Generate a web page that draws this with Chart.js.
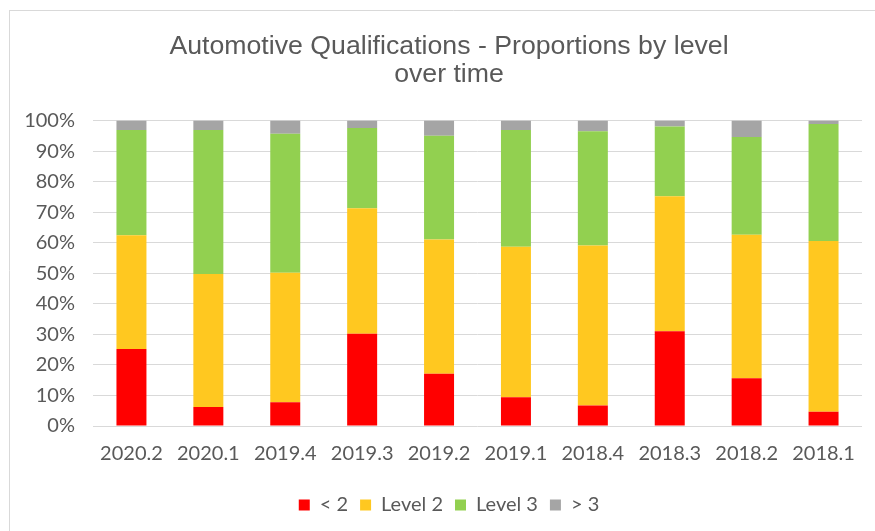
<!DOCTYPE html>
<html>
<head>
<meta charset="utf-8">
<script src="https://cdn.jsdelivr.net/npm/chart.js@4/dist/chart.umd.min.js"></script>
<style>
  html, body { margin: 0; padding: 0; background: #ffffff; overflow: hidden; }
  #wrap { position: absolute; left: 0; top: 0; width: 898px; height: 531px; }
</style>
</head>
<body>
<div id="wrap"><canvas id="c" width="898" height="531"></canvas></div>
<script>
const categories = ["2020.2", "2020.1", "2019.4", "2019.3", "2019.2", "2019.1", "2018.4", "2018.3", "2018.2", "2018.1"];
const seriesNames = ["< 2", "Level 2", "Level 3", "> 3"];
const below2 = [25.2, 6.2, 7.8, 30.2, 17.1, 9.4, 6.7, 31.0, 15.6, 4.7];
const level2 = [37.3, 43.6, 42.4, 41.1, 44.0, 49.3, 52.4, 44.2, 47.0, 55.9];
const level3 = [34.4, 47.1, 45.5, 26.3, 33.9, 38.2, 37.4, 22.9, 32.0, 38.3];
const above3 = [3.1, 3.1, 4.3, 2.4, 5.0, 3.1, 3.5, 1.9, 5.4, 1.1];
const yTickValues = [0, 10, 20, 30, 40, 50, 60, 70, 80, 90, 100];
const titleLines = ["Automotive Qualifications - Proportions by level", "over time"];

const colors = ["#FF0000", "#FFC820", "#92D050", "#A5A5A5"];
const textColor = "#595959";
const tickFont = { family: "Lato, 'Open Sans', sans-serif", size: 20 };

const borderPlugin = {
  id: 'chartBorder',
  beforeDraw(chart) {
    const ctx = chart.ctx;
    ctx.save();
    ctx.fillStyle = '#ffffff';
    ctx.fillRect(0, 0, chart.width, chart.height);
    ctx.strokeStyle = '#d9d9d9';
    ctx.lineWidth = 1;
    ctx.beginPath();
    ctx.moveTo(9.5, 10);
    ctx.lineTo(9.5, chart.height);
    ctx.moveTo(9, 10.5);
    ctx.lineTo(chart.width, 10.5);
    ctx.stroke();
    ctx.restore();
  }
};

const seriesData = [below2, level2, level3, above3];

new Chart(document.getElementById('c'), {
  type: 'bar',
  data: {
    labels: categories,
    datasets: seriesNames.map((name, i) => ({
      label: name,
      data: seriesData[i],
      backgroundColor: colors[i],
      borderWidth: 0,
      categoryPercentage: 1,
      barPercentage: 0.39
    }))
  },
  options: {
    responsive: false,
    animation: false,
    devicePixelRatio: 1,
    layout: { padding: { left: 0, right: 0, top: 0, bottom: 6 } },
    plugins: {
      title: {
        display: true,
        text: titleLines,
        color: textColor,
        font: { family: "'Liberation Sans', Arial, sans-serif", size: 26.7, weight: 'normal', lineHeight: 1.06 },
        padding: { top: 32, bottom: 32 }
      },
      legend: {
        position: 'bottom',
        labels: {
          color: textColor,
          boxWidth: 11,
          boxHeight: 11,
          padding: 12,
          font: tickFont
        }
      },
      tooltip: { enabled: false }
    },
    scales: {
      x: {
        stacked: true,
        grid: { display: false, drawTicks: false },
        border: { display: false },
        ticks: {
          color: textColor,
          padding: 16,
          maxRotation: 0,
          font: tickFont
        },
        afterFit(s) { s.height = 57; }
      },
      y: {
        stacked: true,
        min: 0,
        max: 100,
        position: 'left',
        afterBuildTicks(s) { s.ticks = yTickValues.map(v => ({ value: v })); },
        grid: { color: '#d9d9d9', lineWidth: 1, drawTicks: false },
        border: { display: false },
        ticks: {
          color: textColor,
          padding: 18,
          font: tickFont,
          callback: v => v + '%'
        },
        afterFit(s) { s.width = 93; }
      },
      y2: {
        position: 'right',
        min: 0,
        max: 100,
        grid: { display: false, drawTicks: false },
        border: { display: false },
        ticks: { display: false },
        afterFit(s) { s.width = 36; }
      }
    }
  },
  plugins: [borderPlugin]
});
</script>
</body>
</html>
